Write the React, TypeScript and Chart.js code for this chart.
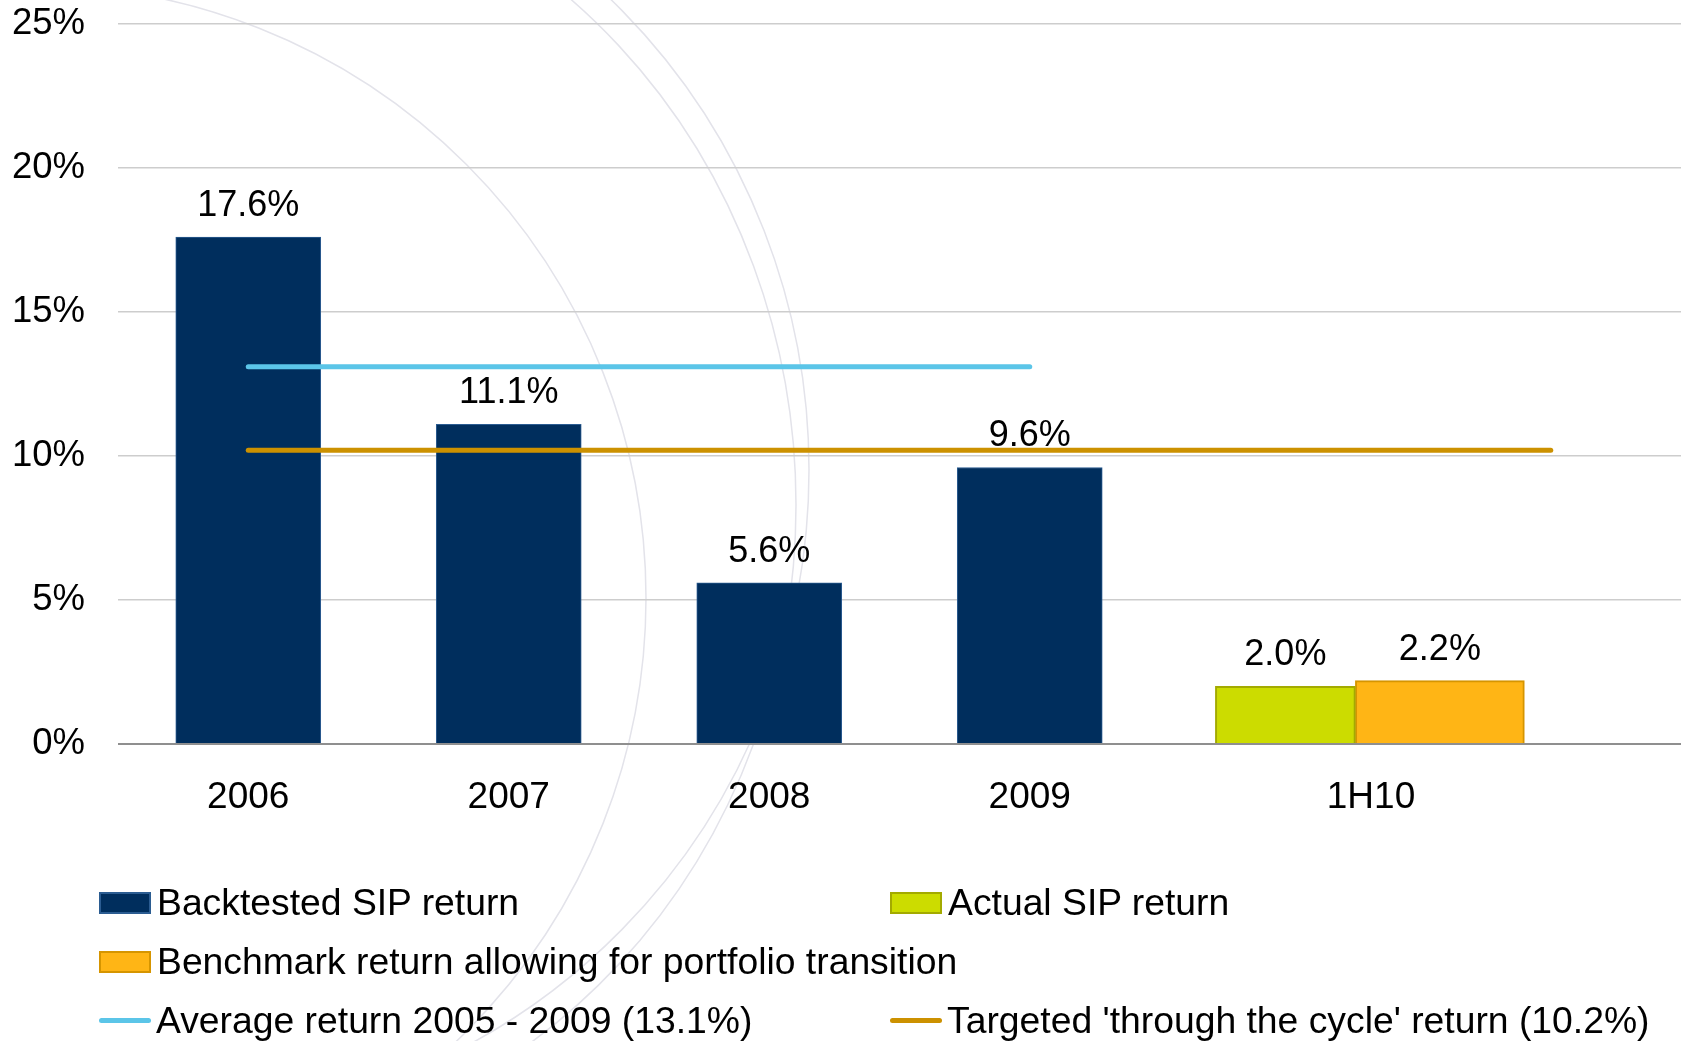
import React, { useEffect, useRef } from 'react';
import { Chart, registerables } from 'chart.js';

Chart.register(...registerables);

// ---------- data ----------
const categories = ['2006', '2007', '2008', '2009', '1H10', ''];
const backtestedValues = [17.6, 11.1, 5.6, 9.6, null, null];
const actualValues = [2.0];
const benchmarkValues = [2.2];
const averageValues = [13.1, 13.1, 13.1, 13.1, null, null];
const targetValues = [10.2, 10.2, 10.2, 10.2, 10.2, 10.2];
const yMin = 0;
const yMax = 25;
const yStep = 5;
const seriesNames = [
  'Backtested SIP return',
  'Actual SIP return',
  'Benchmark return allowing for portfolio transition',
  'Average return 2005 - 2009 (13.1%)',
  "Targeted 'through the cycle' return (10.2%)",
];

// ---------- styles ----------
const FONT = '"Liberation Sans", Arial, Helvetica, sans-serif';
const NAVY = '#002E5D';
const NAVY_BORDER = '#2B5C91';
const LIME = '#CCDC00';
const LIME_BORDER = '#A3AA00';
const ORANGE = '#FFB515';
const ORANGE_BORDER = '#D69500';
const SKY = '#5BC5E8';
const GOLD = '#CC9100';
const PAIR_CATEGORY = categories.indexOf('1H10');
const PAIR_SHIFT = 0.25; // layout offset of the 1H10 bar pair
const PAIR_LABEL_SHIFT = 0.31; // layout offset of the 1H10 tick label

const valueLabelPlugin = {
  id: 'valueLabels',
  afterDatasetsDraw(chart: any) {
    const ctx = chart.ctx;
    ctx.save();
    ctx.font = `36px ${FONT}`;
    ctx.fillStyle = '#000';
    ctx.textAlign = 'center';
    ctx.textBaseline = 'middle';
    chart.data.datasets.forEach((ds: any, i: number) => {
      const meta = chart.getDatasetMeta(i);
      if (meta.type !== 'bar') return;
      meta.data.forEach((el: any, j: number) => {
        const raw = ds.data[j];
        const v = raw !== null && typeof raw === 'object' ? raw.y : raw;
        if (v === null || v === undefined) return;
        ctx.fillText(`${v.toFixed(1)}%`, el.x, el.y - 31);
      });
    });
    ctx.restore();
  },
};

const backgroundArcsPlugin = {
  id: 'backgroundArcs',
  beforeDraw(chart: any) {
    const ctx = chart.ctx;
    ctx.save();
    ctx.strokeStyle = '#e3e3ea';
    ctx.lineWidth = 1.5;
    const arcs = [
      [33, 598, 613, 613],
      [190, 505, 606, 650],
      [170, 470, 639, 650],
    ];
    arcs.forEach(([cx, cy, rx, ry]) => {
      ctx.beginPath();
      ctx.ellipse(cx, cy, rx, ry, 0, 0, Math.PI * 2);
      ctx.stroke();
    });
    ctx.restore();
  },
};

export default function App() {
  const canvasRef = useRef<HTMLCanvasElement | null>(null);

  useEffect(() => {
    if (!canvasRef.current) return;
    const pairPos = PAIR_CATEGORY + PAIR_SHIFT;
    const chart = new Chart(canvasRef.current, {
      type: 'bar',
      data: {
        labels: categories,
        datasets: [
          {
            type: 'bar',
            label: seriesNames[0],
            data: backtestedValues,
            xAxisID: 'x',
            backgroundColor: NAVY,
            borderColor: NAVY_BORDER,
            borderWidth: 1,
            barThickness: 145,
            grouped: false,
            order: 2,
          },
          {
            type: 'bar',
            label: seriesNames[1],
            data: actualValues.map((v) => ({ x: pairPos, y: v })),
            xAxisID: 'xp',
            backgroundColor: LIME,
            borderColor: LIME_BORDER,
            borderWidth: 2,
            barThickness: 140,
            order: 2,
          },
          {
            type: 'bar',
            label: seriesNames[2],
            data: benchmarkValues.map((v) => ({ x: pairPos, y: v })),
            xAxisID: 'xp',
            backgroundColor: ORANGE,
            borderColor: ORANGE_BORDER,
            borderWidth: 2,
            barThickness: 169,
            order: 2,
          },
          {
            type: 'line',
            label: seriesNames[3],
            data: averageValues,
            xAxisID: 'x',
            borderColor: SKY,
            backgroundColor: SKY,
            borderWidth: 5,
            borderCapStyle: 'round',
            pointRadius: 0,
            fill: false,
            order: 1,
          },
          {
            type: 'line',
            label: seriesNames[4],
            data: targetValues,
            xAxisID: 'x',
            borderColor: GOLD,
            backgroundColor: GOLD,
            borderWidth: 5,
            borderCapStyle: 'round',
            pointRadius: 0,
            fill: false,
            order: 1,
          },
        ] as any,
      },
      options: {
        responsive: false,
        animation: false,
        events: [],
        layout: { padding: { left: 12, right: 5, top: 24, bottom: 222 } },
        plugins: {
          legend: { display: false },
          tooltip: { enabled: false },
        },
        scales: {
          x: {
            type: 'category',
            offset: true,
            grid: { display: false, drawTicks: false },
            border: { display: false },
            afterBuildTicks: (scale: any) => {
              scale.ticks = scale.ticks.map((t: any) =>
                t.value === PAIR_CATEGORY ? { ...t, value: PAIR_CATEGORY + PAIR_LABEL_SHIFT } : t
              );
            },
            afterFit: (scale: any) => {
              scale.height = 75;
              scale.paddingLeft = 0;
              scale.paddingRight = 0;
            },
            ticks: {
              autoSkip: false,
              maxRotation: 0,
              minRotation: 0,
              padding: 32,
              color: '#000',
              font: { size: 37, family: FONT },
              callback: (_v: any, i: number) => categories[i],
            },
          },
          xp: {
            type: 'linear',
            display: false,
            offset: false,
            bounds: 'data',
            min: -0.5,
            max: categories.length - 0.5,
            grid: { offset: false },
          },
          y: {
            min: yMin,
            max: yMax,
            border: { display: false },
            afterFit: (scale: any) => {
              scale.width = 106;
              scale.paddingTop = 0;
              scale.paddingBottom = 0;
            },
            grid: {
              drawTicks: false,
              lineWidth: (c: any) => (c.tick && c.tick.value === 0 ? 2 : 1.6),
              color: (c: any) => (c.tick && c.tick.value === 0 ? '#8f8f8f' : '#cdcdcd'),
            },
            ticks: {
              stepSize: yStep,
              padding: 33,
              color: '#000',
              font: { size: 36.5, family: FONT },
              callback: (v: any) => `${v}%`,
            },
          },
        } as any,
      },
      plugins: [backgroundArcsPlugin, valueLabelPlugin],
    } as any);
    return () => chart.destroy();
  }, []);

  const swatchBox = (fill: string, border: string) => (
    <span
      style={{
        display: 'inline-block',
        width: 48,
        height: 18,
        background: fill,
        border: `2px solid ${border}`,
        marginRight: 6,
        flex: '0 0 auto',
      }}
    />
  );
  const swatchLine = (color: string) => (
    <span
      style={{
        display: 'inline-block',
        width: 52,
        height: 5,
        borderRadius: 3,
        background: color,
        marginRight: 5,
        flex: '0 0 auto',
      }}
    />
  );

  const legendItems = [
    { name: seriesNames[0], swatch: swatchBox(NAVY, NAVY_BORDER), col: '1', row: '1' },
    { name: seriesNames[1], swatch: swatchBox(LIME, LIME_BORDER), col: '2', row: '1' },
    { name: seriesNames[2], swatch: swatchBox(ORANGE, ORANGE_BORDER), col: '1 / span 2', row: '2' },
    { name: seriesNames[3], swatch: swatchLine(SKY), col: '1', row: '3' },
    { name: seriesNames[4], swatch: swatchLine(GOLD), col: '2', row: '3' },
  ];

  return (
    <div
      style={{
        position: 'absolute',
        left: 0,
        top: 0,
        width: 1686,
        height: 1041,
        overflow: 'hidden',
        background: '#fff',
      }}
    >
      <canvas ref={canvasRef} width={1686} height={1041} style={{ display: 'block' }} />
      <div
        style={{
          position: 'absolute',
          left: 99,
          top: 873,
          display: 'grid',
          gridTemplateColumns: '791px auto',
          gridAutoRows: '59px',
          alignItems: 'center',
          fontFamily: FONT,
          fontSize: 37.3,
          color: '#000',
          whiteSpace: 'nowrap',
        }}
      >
        {legendItems.map((it) => (
          <div
            key={it.name}
            style={{ gridColumn: it.col, gridRow: it.row, display: 'flex', alignItems: 'center' }}
          >
            {it.swatch}
            <span>{it.name}</span>
          </div>
        ))}
      </div>
    </div>
  );
}
